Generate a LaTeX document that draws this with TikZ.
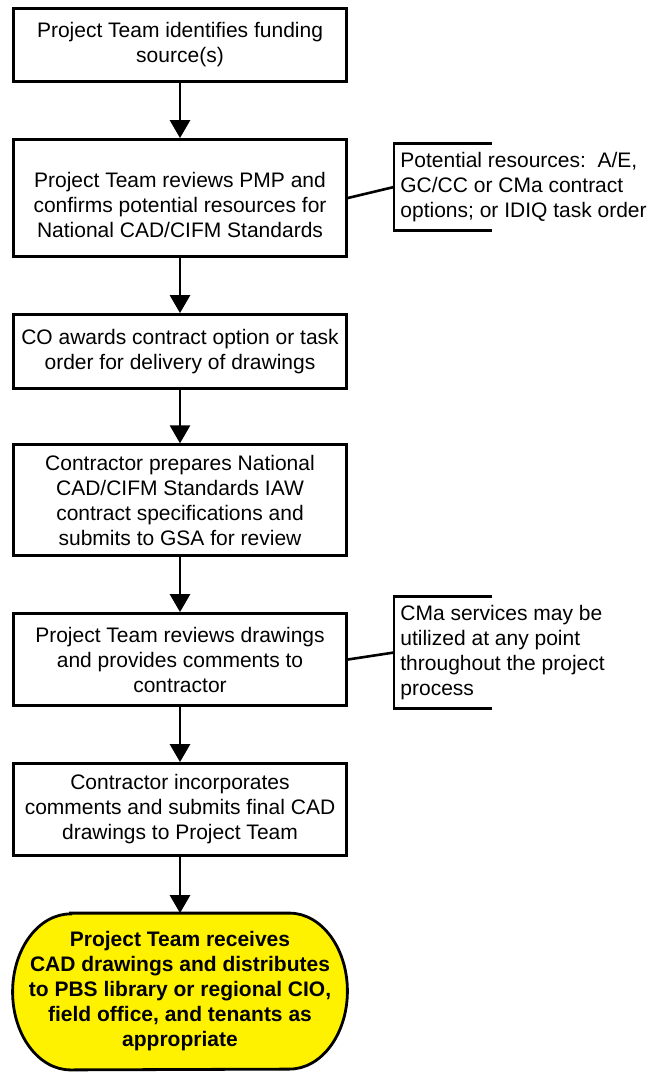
\documentclass[tikz,border=0pt]{standalone}
\usepackage{fontspec}
\setmainfont{Liberation Sans}
\usepackage{tikz}
\usetikzlibrary{arrows.meta,positioning,calc,backgrounds}

\tikzset{
  stepbox/.style={draw, line width=1.4pt, minimum width=166.5pt, inner sep=0pt, align=center},
  notetext/.style={anchor=west, align=left, inner xsep=3pt, inner ysep=0pt},
  flowline/.style={line width=1.4pt, -{Triangle[length=9pt,width=10pt]}},
  bracket/.style={line width=1.3pt},
  endtext/.style={align=center, font=\fontsize{10.5}{12.5}\selectfont\bfseries, minimum width=167pt, minimum height=78pt, inner sep=0pt}
}

\begin{document}
\begin{tikzpicture}[x=0.5pt, y=-0.5pt, font=\fontsize{10.5}{12.5}\selectfont]
  \useasboundingbox (0,0) rectangle (654,1074);

  % process steps
  \node[stepbox, minimum height=36.5pt] (fund) at (180,45) {Project Team identifies funding\\source(s)};
  \node[stepbox, minimum height=58.5pt,
    label={[align=center, yshift=-3.5pt]center:Project Team reviews PMP and\\confirms potential resources for\\National CAD/CIFM Standards}] (pmp) at (180,198) {};
  \node[stepbox, minimum height=37pt] (award) at (180,351.5) {CO awards contract option or task\\order for delivery of drawings};
  \node[stepbox, minimum height=55.25pt] (prep) at (180,500) {Contractor prepares National\\CAD/CIFM Standards IAW\\contract specifications and\\submits to GSA for review};
  \node[stepbox, minimum height=46pt] (review) at (180,659.5) {Project Team reviews drawings\\and provides comments to\\contractor};
  \node[stepbox, minimum height=46pt] (final) at (180,809.5) {Contractor incorporates\\comments and submits final CAD\\drawings to Project Team};
  \node[endtext] (recv) at (180,991.5) {Project Team receives\\CAD drawings and distributes\\to PBS library or regional CIO,\\field office, and tenants as\\appropriate};
  \begin{scope}[on background layer]
    \draw[line width=1.4pt, fill=yellow]
      ([xshift=29pt]recv.north west) -- ([xshift=-29pt]recv.north east)
      arc[start angle=90, end angle=-90, x radius=29pt, y radius=39pt]
      -- ([xshift=29pt]recv.south west)
      arc[start angle=270, end angle=90, x radius=29pt, y radius=39pt] -- cycle;
  \end{scope}

  \foreach \a/\b in {fund/pmp, pmp/award, award/prep, prep/review, review/final, final/recv}
    \draw[flowline] (\a) -- (\b);

  % side notes
  \node[notetext, minimum height=43pt] (resA) at (394,187) {Potential resources:\ \ A/E,\\GC/CC or CMa contract\\options; or IDIQ task order};
  \node[notetext, minimum height=55.5pt] (cma) at (394,652.5) {CMa services may be\\utilized at any point\\throughout the project\\process};
  \draw[bracket] ([xshift=49pt]resA.north west) -- (resA.north west) -- (resA.south west) -- ++(98,0);
  \draw[bracket] ([xshift=49pt]cma.north west) -- (cma.north west) -- (cma.south west) -- ++(98,0);
  \draw[bracket] (pmp.east) -- (resA.west);
  \draw[bracket] (review.east) -- (cma.west);
\end{tikzpicture}
\end{document}
